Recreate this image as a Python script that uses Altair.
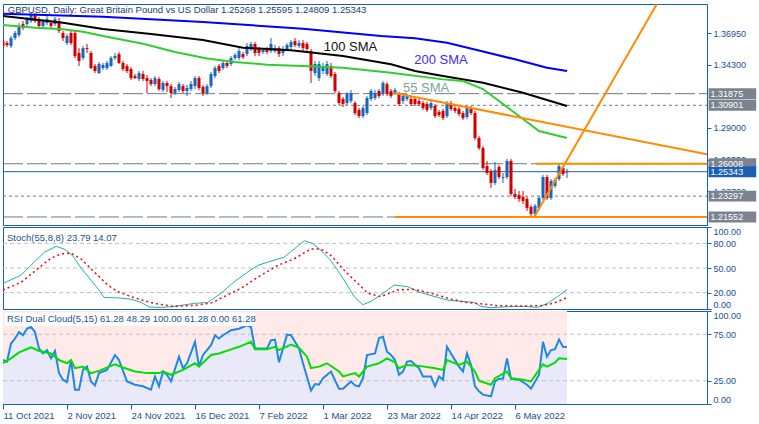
import altair as alt
import numpy as np
import pandas as pd

FONT = "Liberation Sans"
FRAME = "#1a5fb4"
TXT = "#1a4f96"
UP = "#1766c2"
DOWN = "#d40000"
GREY = "#6f7a88"
ORANGE = "#ff8c00"

TITLE = "GBPUSD, Daily:  Great Britain Pound vs US Dollar  1.25268 1.25595 1.24809 1.25343"
STOCH_TITLE = "Stoch(55,8,8) 23.79 14.07"
RSI_TITLE = "RSI Dual Cloud(5,15) 61.28 48.29 100.00 61.28 0.00 61.28"

DATE_IDX = [0, 16, 32, 48, 64, 80, 96, 112, 128]
DATE_LABELS = ["11 Oct 2021", "2 Nov 2021", "24 Nov 2021", "16 Dec 2021", "7 Feb 2022",
               "1 Mar 2022", "23 Mar 2022", "14 Apr 2022", "6 May 2022"]

OPEN = [1.3628, 1.3611, 1.3586, 1.3653, 1.3678, 1.3770, 1.3770, 1.3795, 1.3846, 1.3812,
        1.3754, 1.3779, 1.3779, 1.3770, 1.3795, 1.3695, 1.3611, 1.3695, 1.3695, 1.3528,
        1.3486, 1.3569, 1.3528, 1.3419, 1.3360, 1.3402, 1.3402, 1.3419, 1.3486, 1.3519,
        1.3444, 1.3419, 1.3394, 1.3335, 1.3310, 1.3352, 1.3318, 1.3302, 1.3268, 1.3310,
        1.3218, 1.3277, 1.3251, 1.3193, 1.3218, 1.3251, 1.3210, 1.3226, 1.3251, 1.3318,
        1.3243, 1.3193, 1.3251, 1.3335, 1.3419, 1.3402, 1.3444, 1.3436, 1.3486, 1.3486,
        1.3519, 1.3519, 1.3561, 1.3603, 1.3561, 1.3536, 1.3553, 1.3544, 1.3544, 1.3569,
        1.3528, 1.3561, 1.3578, 1.3628, 1.3586, 1.3611, 1.3603, 1.3544, 1.3360, 1.3318,
        1.3377, 1.3352, 1.3419, 1.3352, 1.3193, 1.3143, 1.3109, 1.3126, 1.3109, 1.3051,
        1.3000, 1.3025, 1.3143, 1.3151, 1.3210, 1.3184, 1.3268, 1.3210, 1.3193, 1.3184,
        1.3126, 1.3143, 1.3143, 1.3143, 1.3126, 1.3109, 1.3101, 1.3067, 1.3084, 1.3034,
        1.3042, 1.3000, 1.3109, 1.3067, 1.3059, 1.3025, 1.2992, 1.3067, 1.3025, 1.2816,
        1.2732, 1.2582, 1.2540, 1.2440, 1.2574, 1.2482, 1.2490, 1.2624, 1.2348, 1.2339,
        1.2323, 1.2306, 1.2239, 1.2181, 1.2231, 1.2314, 1.2490, 1.2314, 1.2415, 1.2473,
        1.2565, 1.25268]
HIGH = [1.3653, 1.3628, 1.3670, 1.3712, 1.3779, 1.3795, 1.3829, 1.3862, 1.3862, 1.3829,
        1.3812, 1.3837, 1.3804, 1.3829, 1.3821, 1.3712, 1.3687, 1.3712, 1.3712, 1.3569,
        1.3586, 1.3603, 1.3544, 1.3436, 1.3452, 1.3444, 1.3461, 1.3502, 1.3528, 1.3536,
        1.3461, 1.3436, 1.3410, 1.3352, 1.3377, 1.3377, 1.3343, 1.3318, 1.3335, 1.3327,
        1.3293, 1.3293, 1.3268, 1.3243, 1.3285, 1.3268, 1.3260, 1.3293, 1.3335, 1.3335,
        1.3260, 1.3268, 1.3369, 1.3419, 1.3436, 1.3461, 1.3469, 1.3502, 1.3528, 1.3569,
        1.3536, 1.3611, 1.3620, 1.3620, 1.3578, 1.3569, 1.3578, 1.3653, 1.3595, 1.3586,
        1.3586, 1.3611, 1.3636, 1.3653, 1.3636, 1.3636, 1.3620, 1.3561, 1.3461, 1.3461,
        1.3444, 1.3461, 1.3444, 1.3369, 1.3210, 1.3159, 1.3201, 1.3218, 1.3126, 1.3067,
        1.3084, 1.3168, 1.3226, 1.3218, 1.3226, 1.3293, 1.3285, 1.3226, 1.3235, 1.3201,
        1.3184, 1.3184, 1.3159, 1.3159, 1.3143, 1.3126, 1.3118, 1.3126, 1.3101, 1.3051,
        1.3059, 1.3126, 1.3126, 1.3084, 1.3076, 1.3042, 1.3084, 1.3084, 1.3042, 1.2833,
        1.2749, 1.2624, 1.2557, 1.2616, 1.2591, 1.2523, 1.2641, 1.2641, 1.2390, 1.2373,
        1.2373, 1.2323, 1.2256, 1.2264, 1.2331, 1.2507, 1.2507, 1.2473, 1.2482, 1.2599,
        1.2582, 1.25595]
LOW = [1.3569, 1.3578, 1.3569, 1.3636, 1.3662, 1.3720, 1.3754, 1.3779, 1.3779, 1.3737,
       1.3737, 1.3762, 1.3737, 1.3754, 1.3695, 1.3628, 1.3595, 1.3595, 1.3486, 1.3419,
       1.3469, 1.3528, 1.3394, 1.3360, 1.3352, 1.3385, 1.3385, 1.3410, 1.3469, 1.3436,
       1.3377, 1.3360, 1.3302, 1.3310, 1.3293, 1.3293, 1.3193, 1.3251, 1.3251, 1.3210,
       1.3201, 1.3201, 1.3151, 1.3176, 1.3201, 1.3193, 1.3168, 1.3210, 1.3226, 1.3218,
       1.3168, 1.3176, 1.3235, 1.3318, 1.3360, 1.3385, 1.3402, 1.3419, 1.3469, 1.3469,
       1.3477, 1.3502, 1.3544, 1.3502, 1.3502, 1.3519, 1.3519, 1.3528, 1.3528, 1.3494,
       1.3502, 1.3544, 1.3561, 1.3578, 1.3569, 1.3544, 1.3528, 1.3277, 1.3335, 1.3293,
       1.3352, 1.3335, 1.3318, 1.3193, 1.3092, 1.3076, 1.3092, 1.3109, 1.3009, 1.2984,
       1.2984, 1.3009, 1.3126, 1.3134, 1.3151, 1.3168, 1.3168, 1.3151, 1.3176, 1.3084,
       1.3101, 1.3126, 1.3084, 1.3084, 1.3084, 1.3051, 1.3034, 1.3051, 1.2984, 1.2992,
       1.2967, 1.2984, 1.3042, 1.3025, 1.3000, 1.2967, 1.2975, 1.3009, 1.2799, 1.2716,
       1.2549, 1.2507, 1.2398, 1.2423, 1.2473, 1.2440, 1.2473, 1.2331, 1.2306, 1.2281,
       1.2264, 1.2206, 1.2155, 1.2164, 1.2214, 1.2298, 1.2298, 1.2298, 1.2398, 1.2457,
       1.2498, 1.24809]
CLOSE = [1.3586, 1.3595, 1.3653, 1.3695, 1.3754, 1.3737, 1.3812, 1.3846, 1.3795, 1.3754,
         1.3795, 1.3812, 1.3754, 1.3812, 1.3712, 1.3653, 1.3670, 1.3611, 1.3502, 1.3461,
         1.3569, 1.3561, 1.3402, 1.3377, 1.3436, 1.3427, 1.3444, 1.3486, 1.3502, 1.3444,
         1.3394, 1.3377, 1.3318, 1.3318, 1.3360, 1.3310, 1.3293, 1.3268, 1.3318, 1.3226,
         1.3277, 1.3251, 1.3193, 1.3226, 1.3268, 1.3210, 1.3235, 1.3268, 1.3318, 1.3235,
         1.3193, 1.3251, 1.3352, 1.3402, 1.3377, 1.3444, 1.3419, 1.3486, 1.3511, 1.3544,
         1.3494, 1.3586, 1.3603, 1.3528, 1.3528, 1.3553, 1.3536, 1.3603, 1.3569, 1.3519,
         1.3561, 1.3595, 1.3620, 1.3595, 1.3611, 1.3569, 1.3561, 1.3377, 1.3436, 1.3436,
         1.3419, 1.3436, 1.3335, 1.3210, 1.3109, 1.3101, 1.3184, 1.3193, 1.3025, 1.3000,
         1.3067, 1.3151, 1.3210, 1.3193, 1.3168, 1.3277, 1.3184, 1.3168, 1.3218, 1.3101,
         1.3168, 1.3168, 1.3101, 1.3101, 1.3101, 1.3067, 1.3051, 1.3109, 1.3000, 1.3009,
         1.2984, 1.3109, 1.3059, 1.3042, 1.3017, 1.2984, 1.3067, 1.3025, 1.2816, 1.2732,
         1.2565, 1.2523, 1.2440, 1.2549, 1.2490, 1.2490, 1.2624, 1.2348, 1.2323, 1.2306,
         1.2289, 1.2231, 1.2181, 1.2248, 1.2314, 1.2490, 1.2314, 1.2457, 1.2465, 1.2582,
         1.2515, 1.25343]

SMA200_I = [0, 25, 50, 75, 94.5, 103, 111, 119.5, 128, 136, 141]
SMA200_V = [1.3857, 1.3831, 1.3787, 1.3731, 1.3670, 1.3651, 1.3614, 1.3544, 1.3475, 1.3405, 1.3377]
SMA100_I = [0, 15, 25, 37, 50, 60, 72, 85, 97, 103, 110, 120, 130, 141]
SMA100_V = [1.3837, 1.3781, 1.3728, 1.3687, 1.3636, 1.3572, 1.3550, 1.3502, 1.3433, 1.3377,
            1.3335, 1.3279, 1.3195, 1.3084]
SMA55_I = [0, 8, 15, 20, 25, 35, 43, 51, 58, 66, 75, 85, 97, 110, 115, 120, 124, 129, 134, 141]
SMA55_V = [1.3762, 1.3739, 1.3726, 1.3706, 1.3670, 1.3606, 1.3537, 1.3481, 1.3452, 1.3430,
           1.3419, 1.3405, 1.3363, 1.3307, 1.3293, 1.3226, 1.3126, 1.3000, 1.2875, 1.2816]

# trend objects: start bar, start price, end bar, end price
TL_X0 = [98, 133.25, 97.8, 132.8]
TL_Y0 = [1.21552, 1.26008, 1.3193, 1.2155]
TL_X1 = [176, 176, 176, 163.5]
TL_Y1 = [1.21552, 1.26008, 1.2681, 1.3940]

LEVELS_LONG = [1.31875, 1.26008, 1.21552]
LEVELS_SHORT = [1.30901, 1.23297]
LAST_PRICE = 1.25343
TAG_VALUES = [1.31875, 1.30901, 1.26008, 1.23297, 1.21552]

X_DOMAIN = [0, 176]
PRICE_DOMAIN = [1.2088, 1.3938]
PRICE_TICKS = [1.2370, 1.2635, 1.2900, 1.3430, 1.3695]

STOCH_MAIN_I = [0, 4.5, 7.8, 10.3, 13.3, 15.3, 17.4, 19.5, 22, 24, 25.3, 28.7, 32, 34.5, 36.6, 39.5,
                42.4, 44.5, 47.8, 51.2, 54.5, 57.8, 61.2, 63.7, 66.2, 70.3, 72.8, 75.3, 77.4, 79.5,
                81.6, 82.8, 85.3, 87.8, 89.9, 92, 94.4, 97.8, 101.2, 103.7, 107, 111.2, 117.8,
                119.5, 122, 126.2, 130.3, 133.7, 136.2, 138.7, 141]
STOCH_MAIN_V = [31.2, 41.2, 57.2, 69, 76.4, 73.2, 65.2, 50, 35.2, 23.2, 14, 13.6, 12, 8, 2.4, 2,
                2.8, 4.4, 6.8, 8, 19.2, 33.2, 45.2, 53.2, 57.2, 63.2, 73.2, 83.2, 80, 71.2,
                61.2, 53.2, 35.2, 15.2, 5.2, 9.2, 17, 29.2, 27.2, 21.2, 16.4, 10.8, 8,
                3.2, 1.6, 2.8, 3.2, 2, 7.2, 15.2, 23.79]
STOCH_SIG_I = [0, 4.5, 8.7, 12, 14.5, 17, 19.5, 22.8, 26.2, 28.7, 32, 35.3, 38.7, 42.8, 47.8, 52,
               56.2, 59.5, 64.5, 68.7, 72.8, 77, 79.5, 82, 85.3, 88.7, 91.2, 94.4, 98.7, 102.8,
               107, 111.2, 115.3, 119.5, 123.7, 129.5, 134.5, 137.8, 141]
STOCH_SIG_V = [23.2, 32.4, 49.2, 62, 67.2, 68, 61.2, 45.2, 29.2, 21.2, 15.2, 10, 6, 3.2, 4.4, 7.2,
               17.2, 25.2, 41.2, 53.2, 61.2, 73.2, 73.2, 65.2, 47.2, 31.2, 19.2, 15, 23.2, 24,
               19.2, 13.2, 8.4, 6.4, 4, 3.6, 4, 7.2, 14.07]
STOCH_LEVELS = [20, 50, 80]

RSI5_I = [0, 1, 2, 3, 4, 5, 6, 7, 8, 9, 10, 11, 12, 13, 14, 15, 16, 17, 18, 19, 20, 21, 22, 23, 24,
          26, 28, 29, 31, 33, 35, 37, 38, 39, 40, 41, 42, 44, 45, 46, 48, 49, 50, 52, 53, 54, 55,
          57, 59, 60, 61, 62, 63, 65, 66, 67, 68, 69, 70, 71, 72, 74, 75, 77, 78, 79, 80, 82, 84,
          85, 87, 88, 89, 90, 91, 93, 94, 95, 96, 97, 98, 99, 100, 101, 102, 104, 105, 107, 108,
          109, 110, 111, 112, 114, 115, 116, 117, 118, 119, 120, 122, 123, 124, 125, 126, 127,
          129, 131, 132, 134, 135, 136, 137, 138, 139, 140, 141]
RSI5_V = [47.3, 45.6, 65, 70.4, 77.5, 73.9, 81, 82.8, 77.5, 59.8, 54.4, 58, 49.1, 57, 33.2, 26.1,
          23.6, 47.3, 15.4, 15.4, 36.7, 40.2, 24.3, 20, 33.2, 36.7, 52.7, 47.3, 24.3, 20.7, 19,
          15.4, 29.6, 19, 34.9, 31.4, 24.3, 50.9, 38.5, 43.8, 66.8, 40.2, 52.7, 63.3, 73.9, 70.4,
          73.9, 79.3, 81, 82.8, 84.6, 82.8, 59.8, 59.8, 59.8, 68.6, 69.3, 44.9, 59.8, 74.6, 73.9,
          59.8, 43.8, 14.4, 21.5, 20.7, 27.8, 34.9, 16.5, 16.5, 24.3, 20, 19, 27.8, 52.7, 54.4,
          71, 72.2, 56.2, 52.7, 47.3, 31.4, 34.9, 45.6, 46.3, 38.5, 29.6, 29.6, 19, 29.6, 26.1,
          61.5, 54.4, 40.2, 34.9, 54.4, 42, 19, 13.7, 10.1, 8.3, 24.3, 27.1, 27.1, 49.1, 27.1,
          26.1, 20.7, 16.5, 31.4, 66.8, 50.9, 58, 59, 69.3, 61.5, 61.28]
RSI15_I = [0, 2, 4, 7, 9, 12, 14, 16, 17, 18, 20, 22, 24, 28, 30, 33, 36, 39, 40, 42, 45, 48, 49,
           52, 54, 57, 59, 62, 63, 66, 68, 69, 72, 74, 76, 77, 79, 81, 84, 85, 88, 89, 91, 94, 96,
           98, 99, 101, 104, 108, 110, 111, 114, 116, 118, 119, 122, 123, 126, 127, 130, 132, 135,
           136, 138, 139, 141]
RSI15_V = [43.8, 49.1, 55.5, 60.8, 57, 54.4, 47.3, 43.8, 47.3, 38.5, 40.2, 33.2, 35.6, 42.7, 39.2,
           34.9, 33.2, 33.2, 34.9, 31.4, 36.7, 43.8, 40.2, 52.7, 54.4, 58.7, 61.5, 66.8, 59, 59,
           61.5, 58, 64, 60.5, 50.9, 38.5, 40.2, 43.8, 34.9, 29.6, 33.2, 29.6, 40.2, 43.8, 49.1,
           44.9, 38.5, 42, 41, 38.5, 36.7, 47.3, 42, 45.6, 34.9, 25, 20.7, 27.8, 34.9, 27.8, 26.1,
           24.3, 42.7, 40.2, 44.5, 49.1, 48.29]
RSI_LEVELS = [25, 75]

# ---------------------------------------------------------------- frames
bars = pd.DataFrame({"i": list(range(len(CLOSE))), "o": OPEN, "h": HIGH, "l": LOW, "c": CLOSE})
bars["dir"] = np.where(bars["c"] >= bars["o"], "up", "down")
bars["top"] = bars[["o", "c"]].max(axis=1)
bars["bot"] = bars[["o", "c"]].min(axis=1)
bars["x0"] = bars["i"] - 0.38
bars["x1"] = bars["i"] + 0.38

xs = alt.Scale(domain=X_DOMAIN, nice=False, zero=False)
ys = alt.Scale(domain=PRICE_DOMAIN, nice=False, zero=False)
ps = alt.Scale(domain=[0, 100], nice=False, zero=False)
col = alt.Color("dir:N", scale=alt.Scale(domain=["up", "down"], range=[UP, DOWN]), legend=None)

price_axis = alt.Axis(orient="right", values=PRICE_TICKS, format=".5f", title=None, grid=False,
                      domain=False, tickColor=FRAME, tickSize=4, labelColor=TXT, labelFontSize=9,
                      labelPadding=2)
stoch_axis = alt.Axis(orient="right", values=[0, 20, 50, 80, 100], format=".2f", title=None, grid=False,
                      domain=False, tickColor=FRAME, tickSize=4, labelColor=TXT, labelFontSize=9,
                      labelPadding=2, labelFlush=True)
rsi_axis = alt.Axis(orient="right", values=[0, 25, 75, 100], format=".2f", title=None, grid=False,
                    domain=False, tickColor=FRAME, tickSize=4, labelColor=TXT, labelFontSize=9,
                    labelPadding=2, labelFlush=True)
x_axis = alt.Axis(orient="bottom", values=DATE_IDX, title=None, grid=False, domain=False,
                  labelExpr="[" + ",".join("'%s'" % d for d in DATE_LABELS) + "][indexof(["
                  + ",".join(str(v) for v in DATE_IDX) + "], datum.value)]",
                  labelAlign="left", labelColor=TXT, tickColor=FRAME, tickSize=5,
                  labelFontSize=9.5, labelPadding=1, labelFlush=False)


def X(f, axis=None):
    return alt.X(f, type="quantitative", scale=xs, axis=axis)


def Y(f):
    return alt.Y(f, type="quantitative", scale=ys, axis=price_axis)


def hlines(values, dash, color, width=1):
    df = pd.DataFrame({"p": values, "a": X_DOMAIN[0], "b": X_DOMAIN[1]})
    return alt.Chart(df).mark_rule(strokeDash=dash, color=color, strokeWidth=width, clip=True).encode(
        x=X("a"), x2="b", y=Y("p"))


lv_long = hlines(LEVELS_LONG, [20, 4], GREY)
lv_short = hlines(LEVELS_SHORT, [3, 3], GREY)
lv_last = alt.Chart(pd.DataFrame({"p": [LAST_PRICE], "a": X_DOMAIN[0], "b": X_DOMAIN[1]})).mark_rule(
    color=FRAME, strokeWidth=1, clip=True).encode(x=X("a"), x2="b", y=Y("p"))

wicks = alt.Chart(bars).mark_rule(strokeWidth=1, clip=True).encode(
    x=X("i"), y=Y("l"), y2="h:Q", color=col)
bodies = alt.Chart(bars).mark_rect(clip=True).encode(
    x=X("x0"), x2="x1", y=Y("bot"), y2="top", color=col)


def sma(ii, vv, color):
    df = pd.DataFrame({"i": ii, "v": vv})
    return alt.Chart(df).mark_line(color=color, strokeWidth=2, clip=True).encode(x=X("i"), y=Y("v"))


sma200 = sma(SMA200_I, SMA200_V, "#0000ff")
sma100 = sma(SMA100_I, SMA100_V, "#000000")
sma55 = sma(SMA55_I, SMA55_V, "#32cd32")

tl = pd.DataFrame({"a": TL_X0, "pa": TL_Y0, "b": TL_X1, "pb": TL_Y1})
trend = alt.Chart(tl).mark_rule(color=ORANGE, strokeWidth=2, clip=True).encode(
    x=X("a"), x2="b", y=Y("pa"), y2="pb")

labels_df = pd.DataFrame({"i": [80.2, 102.8, 100.0], "p": [1.3578, 1.3469, 1.3235],
                          "t": ["100 SMA", "200 SMA", "55 SMA"], "k": ["a", "b", "c"]})
sma_labels = alt.Chart(labels_df).mark_text(align="left", baseline="middle", fontSize=13).encode(
    x=X("i"), y=Y("p"), text="t:N",
    color=alt.Color("k:N", scale=alt.Scale(domain=["a", "b", "c"], range=["#111111", "#3c2bff", "#78a890"]),
                    legend=None))

title_txt = alt.Chart(pd.DataFrame({"i": [1.2], "p": [1.3888], "t": [TITLE]})).mark_text(
    align="left", baseline="middle", fontSize=9.5, color="#1c3d6e").encode(x=X("i"), y=Y("p"), text="t:N")

tags = pd.DataFrame({"p": TAG_VALUES + [LAST_PRICE], "g": ["g"] * len(TAG_VALUES) + ["b"]})
tags["lo"] = tags["p"] - 0.0046
tags["hi"] = tags["p"] + 0.0046
tags["xa"] = 176.4
tags["xb"] = 188.3
tags["xt"] = 176.9
tags["lab"] = tags["p"].map(lambda v: f"{v:.5f}")
tag_rect = alt.Chart(tags).mark_rect(clip=False).encode(
    x=X("xa"), x2="xb", y=Y("lo"), y2="hi",
    color=alt.Color("g:N", scale=alt.Scale(domain=["g", "b"], range=["#7a838f", FRAME]), legend=None))
tag_text = alt.Chart(tags).mark_text(align="left", baseline="middle", color="white", fontSize=9,
                                     clip=False).encode(x=X("xt"), y=Y("p"), text="lab:N")

main = alt.layer(lv_long, lv_short, lv_last, wicks, bodies, sma200, sma100, sma55, trend,
                 sma_labels, title_txt, tag_rect, tag_text).resolve_scale(color="independent").properties(
    width=704, height=221)


# ---------------------------------------------------------------- stochastic
def S(f):
    return alt.Y(f, type="quantitative", scale=ps, axis=stoch_axis)


st_grid = alt.Chart(pd.DataFrame({"v": STOCH_LEVELS, "a": X_DOMAIN[0], "b": X_DOMAIN[1]})).mark_rule(
    color="#c0c0c0", strokeDash=[4, 3], clip=True).encode(x=X("a"), x2="b", y=S("v"))
st_main = alt.Chart(pd.DataFrame({"i": STOCH_MAIN_I, "v": STOCH_MAIN_V})).mark_line(
    color="#20b2aa", strokeWidth=1, clip=True).encode(x=X("i"), y=S("v"))
st_sig = alt.Chart(pd.DataFrame({"i": STOCH_SIG_I, "v": STOCH_SIG_V})).mark_line(
    color="#ff0000", strokeWidth=1.5, strokeDash=[2, 3], clip=True).encode(x=X("i"), y=S("v"))
st_txt = alt.Chart(pd.DataFrame({"i": [1.0], "v": [87.0], "t": [STOCH_TITLE]})).mark_text(
    align="left", baseline="middle", fontSize=9.5, color=TXT).encode(x=X("i"), y=S("v"), text="t:N")
stoch = alt.layer(st_grid, st_main, st_sig, st_txt).properties(width=704, height=82)


# ---------------------------------------------------------------- RSI
def R(f):
    return alt.Y(f, type="quantitative", scale=ps, axis=rsi_axis)


def XR(f):
    return X(f, x_axis)


r5 = pd.DataFrame({"i": RSI5_I, "v": RSI5_V})
r5["top"] = 100
r5["zero"] = 0
cloud_hi = alt.Chart(r5).mark_area(color="#ffe9e9", clip=True).encode(x=XR("i"), y=R("v"), y2="top:Q")
cloud_lo = alt.Chart(r5).mark_area(color="#e9e9fa", clip=True).encode(x=XR("i"), y=R("v"), y2="zero:Q")
r_grid = alt.Chart(pd.DataFrame({"v": RSI_LEVELS, "a": X_DOMAIN[0], "b": X_DOMAIN[1]})).mark_rule(
    color="#c0c0c0", strokeDash=[4, 3], clip=True).encode(x=XR("a"), x2="b", y=R("v"))
r5_line = alt.Chart(r5).mark_line(color="#1e88e5", strokeWidth=2, clip=True).encode(x=XR("i"), y=R("v"))
r15_line = alt.Chart(pd.DataFrame({"i": RSI15_I, "v": RSI15_V})).mark_line(
    color="#00e000", strokeWidth=2, clip=True).encode(x=XR("i"), y=R("v"))
r_box = alt.Chart(pd.DataFrame({"a": [0.4], "b": [63.0], "lo": [84.0], "hi": [98.5]})).mark_rect(
    color="white", clip=True).encode(x=XR("a"), x2="b", y=R("lo"), y2="hi")
r_txt = alt.Chart(pd.DataFrame({"i": [1.0], "v": [91.0], "t": [RSI_TITLE]})).mark_text(
    align="left", baseline="middle", fontSize=9.5, color=TXT).encode(x=XR("i"), y=R("v"), text="t:N")
rsi = alt.layer(cloud_hi, cloud_lo, r_grid, r5_line, r15_line, r_box, r_txt).properties(width=704, height=93)

chart = alt.vconcat(main, stoch, rsi, spacing=2, bounds="flush").properties(
    padding={"left": 2, "top": 3, "right": 0, "bottom": 0}, background="white"
).configure(font=FONT).configure_view(stroke=FRAME, strokeWidth=1)

chart.save("out.html", embed_options={"renderer": "svg", "actions": False})
